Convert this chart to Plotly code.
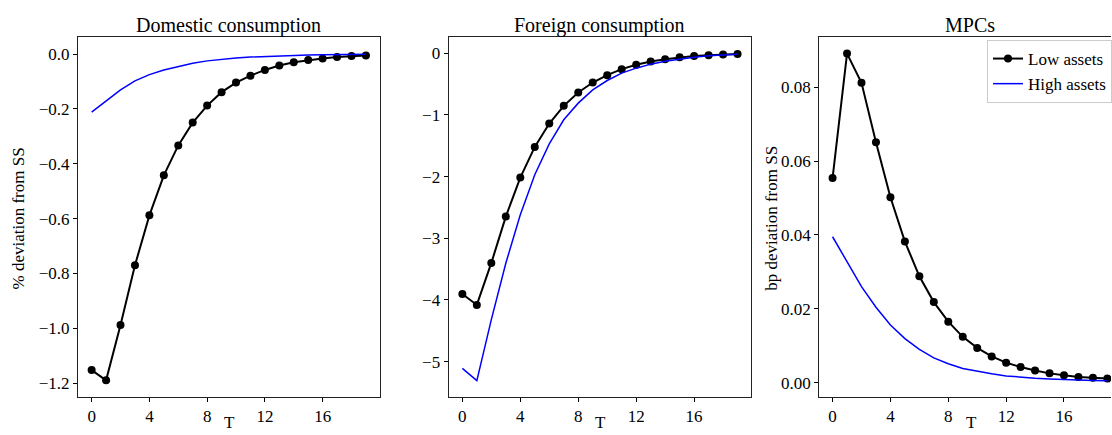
import plotly.graph_objects as go

T = list(range(20))

dom_low = [-1.152, -1.189, -0.988, -0.770, -0.588, -0.442, -0.333, -0.250, -0.188, -0.139,
           -0.104, -0.079, -0.058, -0.042, -0.030, -0.022, -0.016, -0.011, -0.007, -0.005]
dom_high = [-0.212, -0.173, -0.131, -0.098, -0.075, -0.058, -0.045, -0.034, -0.025, -0.019,
            -0.0145, -0.011, -0.0085, -0.0063, -0.0048, -0.0036, -0.0026, -0.0019, -0.0012, -0.0006]

for_low = [-3.903, -4.081, -3.400, -2.649, -2.016, -1.519, -1.141, -0.854, -0.638, -0.476,
           -0.357, -0.259, -0.189, -0.135, -0.097, -0.068, -0.047, -0.032, -0.020, -0.012]
for_high = [-5.108, -5.308, -4.32, -3.405, -2.62, -1.97, -1.47, -1.08, -0.81, -0.595,
            -0.443, -0.324, -0.243, -0.178, -0.130, -0.092, -0.065, -0.043, -0.027, -0.016]

mpc_low = [0.0554, 0.0891, 0.0812, 0.0651, 0.0502, 0.0382, 0.0288, 0.0218, 0.0165, 0.0124,
           0.0094, 0.0071, 0.0054, 0.0042, 0.0033, 0.0025, 0.0020, 0.0015, 0.0013, 0.0011]
mpc_high = [0.0395, 0.0328, 0.0260, 0.0204, 0.0156, 0.0119, 0.0090, 0.0067, 0.0051, 0.0038,
            0.0030, 0.0024, 0.0018, 0.0014, 0.0012, 0.0010, 0.0008, 0.0007, 0.0006, 0.0005]

titles = ["Domestic consumption", "Foreign consumption", "MPCs"]
ytitles = ["% deviation from SS", "", "bp deviation from SS"]
xtitle = "T"
xticks = [0, 4, 8, 12, 16]

FONT = "Liberation Serif, Times New Roman, serif"
W, H = 1112, 435

fig = go.Figure()
panels = [(dom_low, dom_high), (for_low, for_high), (mpc_low, mpc_high)]
for i, (lo, hi) in enumerate(panels):
    sfx = "" if i == 0 else str(i + 1)
    fig.add_trace(go.Scatter(x=T, y=lo, mode="lines+markers", name="Low assets",
                             line=dict(color="black", width=2),
                             marker=dict(color="black", size=8),
                             xaxis="x" + sfx, yaxis="y" + sfx, showlegend=(i == 2)))
    fig.add_trace(go.Scatter(x=T, y=hi, mode="lines", name="High assets",
                             line=dict(color="#0000ff", width=1.5),
                             xaxis="x" + sfx, yaxis="y" + sfx, showlegend=(i == 2)))

# plot-area pixel boxes (left, right); panel 3 is cut by the image edge
xpix = [(78, 380), (449, 752), (820, 1112)]
full_w = 302
top, bot = 37, 397
ydom = [1 - bot / H, 1 - top / H]
xranges = [[-0.95, 19.95], [-0.95, 19.95], [-0.92, 19.25]]
yranges = [[-1.25, 0.062], [-5.573, 0.262], [-0.0039, 0.0936]]
ydticks = [0.2, 1, 0.02]
yfmts = [".1f", "d", ".2f"]
ytitle_x = [19.5, None, 772.5]

axis_common = dict(showgrid=False, zeroline=False, ticks="outside", ticklen=4,
                   tickwidth=1, tickcolor="black", linecolor="#222", linewidth=1,
                   tickfont=dict(family=FONT, size=17, color="black"))
for i in range(3):
    sfx = "" if i == 0 else str(i + 1)
    l, r = xpix[i]
    cx = (l + full_w / 2) / W
    fig.layout["xaxis" + sfx] = dict(
        domain=[l / W, r / W], range=xranges[i], anchor="y" + sfx,
        tickvals=xticks, showline=True, mirror=True, **axis_common)
    fig.layout["yaxis" + sfx] = dict(
        domain=ydom, range=yranges[i], anchor="x" + sfx,
        dtick=ydticks[i], tick0=0, tickformat=yfmts[i], showline=True,
        mirror=(i != 2), **axis_common)
    fig.add_annotation(text=titles[i], xref="paper", yref="paper",
                       x=cx, y=1 - 25 / H, xanchor="center", yanchor="middle",
                       showarrow=False, font=dict(family=FONT, size=20, color="black"))
    fig.add_annotation(text=xtitle, xref="paper", yref="paper",
                       x=(l + full_w / 2 + 1) / W, y=1 - 422.5 / H, xanchor="center",
                       yanchor="middle", showarrow=False,
                       font=dict(family=FONT, size=17, color="black"))
    if ytitles[i]:
        fig.add_annotation(text=ytitles[i], xref="paper", yref="paper",
                           x=ytitle_x[i] / W, y=1 - 218 / H, xanchor="center",
                           yanchor="middle", textangle=-90, showarrow=False,
                           font=dict(family=FONT, size=17, color="black"))

fig.update_layout(
    width=W, height=H, margin=dict(l=0, r=0, t=0, b=0),
    paper_bgcolor="white", plot_bgcolor="white",
    font=dict(family=FONT, color="black"),
    legend=dict(x=988 / W, y=1 - 40 / H, xanchor="left", yanchor="top",
                bgcolor="rgba(255,255,255,0.8)", bordercolor="#cccccc", borderwidth=1,
                font=dict(family=FONT, size=17, color="black"), tracegroupgap=0),
)

fig.write_html(
    "out.html", config={"displayModeBar": False},
    post_script=("document.body.style.margin='0';"
                 "document.body.style.overflow='hidden';"
                 "document.documentElement.style.overflow='hidden';"))
